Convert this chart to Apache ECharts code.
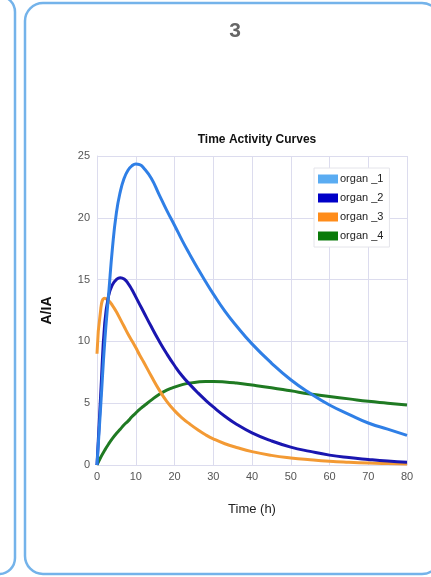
<!DOCTYPE html>
<html>
<head>
<meta charset="utf-8">
<script src="https://cdn.jsdelivr.net/npm/echarts@6/dist/echarts.min.js"></script>
<style>
  html, body { margin: 0; padding: 0; background: #fff; }
  #main { width: 431px; height: 577px; }
</style>
</head>
<body>
<div id="main"></div>
<script>
  // time points (h) and A/IA values
  const hours = [0, 1, 2, 3, 4, 5, 6, 7, 8, 9, 10, 11, 12, 14, 16, 18, 20, 22, 24, 26, 28, 30, 33, 36, 40, 45, 50, 55, 60, 65, 70, 75, 80];
  const organ1 = [0, 5.0, 10.0, 13.8, 17.6, 20.4, 22.1, 23.2, 23.85, 24.2, 24.35, 24.3, 24.05, 23.2, 21.9, 20.6, 19.4, 18.15, 17.0, 15.9, 14.85, 13.85, 12.45, 11.25, 9.8, 8.25, 6.9, 5.8, 4.85, 4.1, 3.4, 2.9, 2.4];
  const organ2 = [0, 6.0, 11.5, 13.7, 14.6, 15.0, 15.15, 15.05, 14.7, 14.2, 13.6, 13.0, 12.4, 11.2, 10.05, 9.0, 8.05, 7.2, 6.5, 5.85, 5.25, 4.7, 3.95, 3.3, 2.6, 1.95, 1.45, 1.1, 0.8, 0.6, 0.45, 0.32, 0.22];
  const organ3 = [9.0, 12.7, 13.5, 13.3, 12.9, 12.4, 11.8, 11.2, 10.6, 10.05, 9.5, 8.9, 8.35, 7.2, 6.1, 5.15, 4.4, 3.8, 3.3, 2.85, 2.45, 2.12, 1.72, 1.42, 1.08, 0.78, 0.57, 0.42, 0.3, 0.22, 0.16, 0.12, 0.09];
  const organ4 = [0, 0.65, 1.2, 1.7, 2.15, 2.55, 2.9, 3.25, 3.55, 3.9, 4.2, 4.5, 4.75, 5.25, 5.7, 6.05, 6.3, 6.5, 6.63, 6.72, 6.76, 6.76, 6.72, 6.63, 6.47, 6.25, 6.0, 5.75, 5.55, 5.35, 5.15, 5.0, 4.85];

  const names = ['organ _1', 'organ _2', 'organ _3', 'organ _4'];
  const lineColors = ['#2f7fe6', '#1a16b0', '#f39a34', '#1f7a22'];
  const swatchColors = ['#5aacf2', '#0000c8', '#ff8c1a', '#0a7a0a'];

  const pairs = (vals) => hours.map((h, i) => [h, vals[i]]);
  const allVals = [organ1, organ2, organ3, organ4];

  const chart = echarts.init(document.getElementById('main'));
  chart.setOption({
    backgroundColor: '#fff',
    textStyle: { fontFamily: 'Liberation Sans, Arial, sans-serif' },
    title: [
      {
        text: '3',
        left: 230, top: 16,
        textAlign: 'center',
        textStyle: { fontSize: 21, fontWeight: 'bold', color: '#666' }
      },
      {
        text: 'Time Activity Curves',
        left: 252, top: 129,
        textAlign: 'center',
        textStyle: { fontSize: 12, fontWeight: 'bold', color: '#111' }
      }
    ],
    graphic: [
      {
        type: 'rect',
        shape: { x: -30, y: -4, width: 45, height: 578, r: 16 },
        style: { fill: '#fff', stroke: '#74b3ea', lineWidth: 2.5 },
        z: -10
      },
      {
        type: 'rect',
        shape: { x: 25, y: 3, width: 415, height: 571, r: 18 },
        style: { fill: '#fff', stroke: '#74b3ea', lineWidth: 2.5 },
        z: -10
      }
    ],
    legend: {
      orient: 'vertical',
      left: 314, top: 168,
      padding: [5, 6, 5, 4],
      backgroundColor: '#fff',
      borderColor: '#e4e4ea',
      borderWidth: 1,
      icon: 'rect',
      itemWidth: 20, itemHeight: 9,
      itemGap: 7,
      textStyle: { fontSize: 11, color: '#222', padding: [0, 0, 0, -3], lineHeight: 12 },
      data: names.map((n, i) => ({ name: n, itemStyle: { color: swatchColors[i] } }))
    },
    grid: { left: 97, right: 24, top: 156, bottom: 112 },
    xAxis: {
      type: 'value',
      min: 0, max: 80, interval: 10,
      name: 'Time (h)',
      nameLocation: 'middle',
      nameGap: 38,
      nameTextStyle: { fontSize: 13, color: '#222' },
      axisLine: { show: true, lineStyle: { color: '#dcdcee' } },
      axisTick: { show: false },
      axisLabel: { fontSize: 11, color: '#555', margin: 6 },
      splitLine: { show: true, lineStyle: { color: '#dcdcee' } }
    },
    yAxis: {
      type: 'value',
      min: 0, max: 25, interval: 5,
      name: 'A/IA',
      nameLocation: 'middle',
      nameGap: 43,
      nameTextStyle: { fontSize: 14, fontWeight: 'bold', color: '#111' },
      axisLine: { show: true, lineStyle: { color: '#dcdcee' } },
      axisTick: { show: false },
      axisLabel: { fontSize: 11, color: '#555', margin: 7 },
      splitLine: { show: true, lineStyle: { color: '#dcdcee' } }
    },
    series: allVals.map((vals, i) => ({
      name: names[i],
      type: 'line',
      data: pairs(vals),
      smooth: 0.5,
      showSymbol: false,
      lineStyle: { width: 3, color: lineColors[i] },
      itemStyle: { color: swatchColors[i] },
      z: 10 - i
    }))
  });
</script>
</body>
</html>
